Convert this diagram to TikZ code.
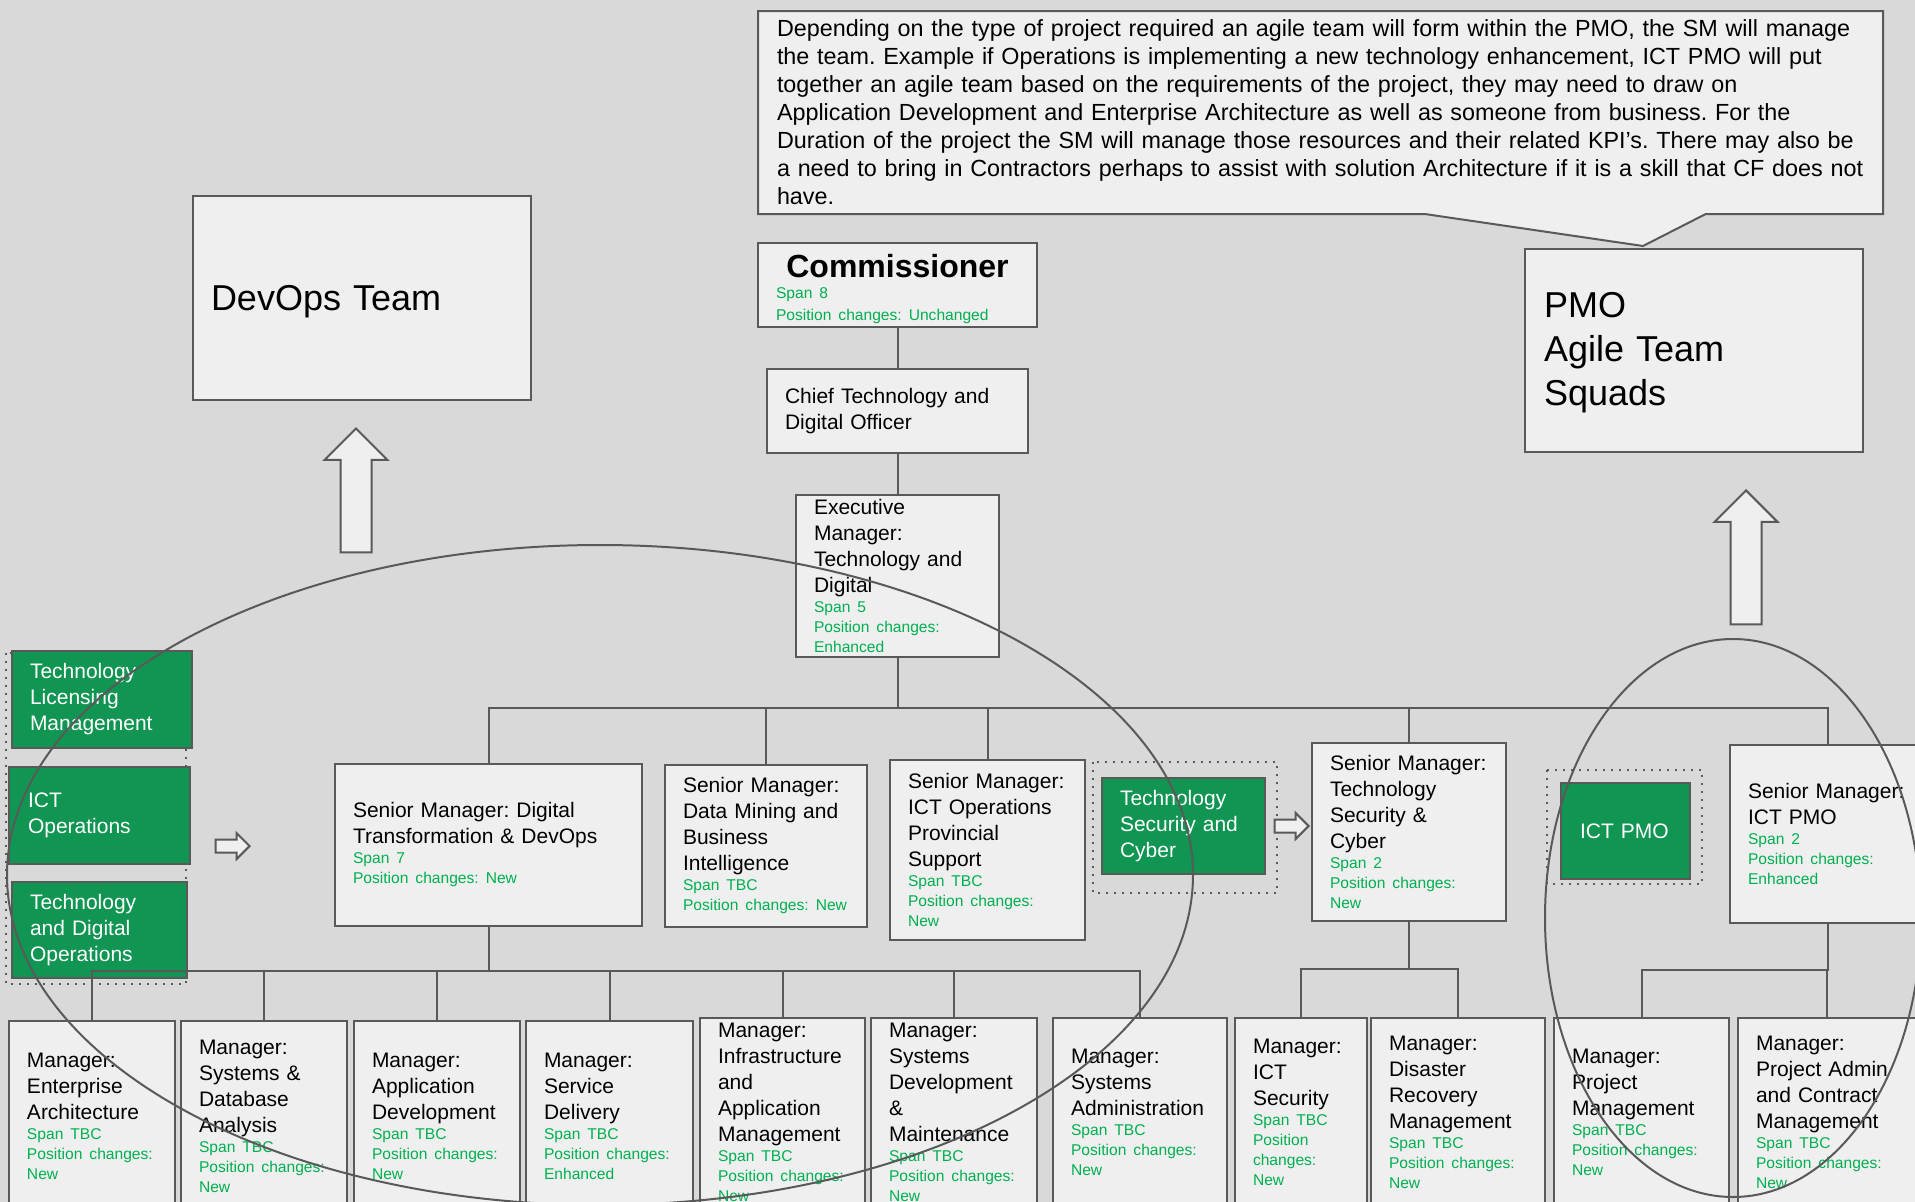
\documentclass[tikz,border=0pt]{standalone}
\usepackage{fontspec}
\setmainfont{Liberation Sans}
\usetikzlibrary{arrows,shapes.arrows,shapes.callouts,positioning,calc}

\definecolor{slidebg}{HTML}{D9D9D9}
\definecolor{boxfill}{HTML}{EFEFEF}
\definecolor{boxline}{HTML}{595959}
\definecolor{unitgreen}{HTML}{109552}
\definecolor{spangreen}{HTML}{00B050}

\frenchspacing
\hyphenpenalty=10000
\exhyphenpenalty=10000

\newcommand{\spaninfo}[1]{\par{\fontsize{15.6}{20}\selectfont\color{spangreen}#1\par}}

\begin{document}
\begin{tikzpicture}[x=1pt, y=-1pt,
  every node/.style={anchor=north west, align=left, inner xsep=18pt, inner ysep=1pt},
  role/.style={draw=boxline, fill=boxfill, line width=2pt, font=\fontsize{21}{26}\selectfont},
  unit/.style={draw=boxline, fill=unitgreen, line width=2pt, text=white, font=\fontsize{21}{26}\selectfont},
  big/.style={role, font=\fontsize{36}{44}\selectfont},
  link/.style={draw=boxline, line width=2pt},
  group/.style={draw=boxline, line width=2pt, dash pattern=on 2pt off 6pt},
  ring/.style={draw=boxline, line width=2pt},
  blockarrow/.style={single arrow, draw=boxline, fill=boxfill, line width=2pt, anchor=tip}]
\useasboundingbox (0,0) rectangle (1915,1202);
\fill[slidebg] (0,0) rectangle (1915,1202);

\node[big, text width=302pt, minimum height=204pt, text depth=-3pt] (devops) at (192,195) {DevOps Team};
\node[big, text width=300pt, minimum height=203pt, inner xsep=19pt] (pmo) at (1524,248) {\rule{0pt}{30pt}PMO\\Agile Team\\Squads};
\node[role, rectangle callout, callout absolute pointer={(1643,246)}, callout pointer width=281pt,
  text width=1100pt, minimum height=203pt, inner xsep=12.5pt, font=\fontsize{23.35}{28}\selectfont] (note) at (757,10)
  {\leftskip=6.5pt Depending on the type of project required an agile team will form within the PMO, the SM will manage\\
  the team. Example if Operations is implementing a new technology enhancement, ICT PMO will put\\
  together an agile team based on the requirements of the project, they may need to draw on\\
  Application Development and Enterprise Architecture as well as someone from business. For the\\
  Duration of the project the SM will manage those resources and their related KPI’s. There may also be\\
  a need to bring in Contractors perhaps to assist with solution Architecture if it is a skill that CF does not\\
  have.\par};

\node[blockarrow, rotate=90, minimum height=124pt, minimum width=61pt, inner sep=14.5pt, single arrow head extend=16pt] (upA) at (356,427) {};
\node[blockarrow, rotate=90, minimum height=134pt, minimum width=61pt, inner sep=14.5pt, single arrow head extend=16pt] (upB) at (1746,489) {};

% head of the chart
\node[role, text width=243pt, minimum height=84pt] (comm) at (757,242)
  {\makebox[\hsize]{\fontsize{32}{36}\selectfont\bfseries Commissioner}\par
  {\fontsize{15.6}{21.5}\selectfont\color{spangreen}Span 8\\Position changes: Unchanged\par}\kern-8pt};
\node[role, text width=225pt, minimum height=84pt] (cto) at (766,368) {Chief Technology and\\Digital Officer};
\node[role, text width=167pt, minimum height=162pt, inner ysep=0pt] (exec) at (795,494)
  {Executive\\Manager:\\Technology and\\Digital\spaninfo{Span 5\\Position changes:\\Enhanced}};

% units moving across
\draw[group] (6,653) rectangle (186,984);
\draw[group] (1093,762) rectangle (1277,893);
\draw[group] (1547,770) rectangle (1702,884);
\node[unit, text width=144pt, minimum height=97pt] (tlm) at (11,650) {Technology\\Licensing\\Management};
\node[unit, text width=143pt, minimum height=97pt, inner xsep=19pt] (ictops) at (8,766) {ICT\\Operations};
\node[unit, text width=139pt, minimum height=96pt] (tdo) at (11,881) {Technology\\and Digital\\Operations};
\node[unit, text width=127pt, minimum height=96pt] (techsec) at (1101,777) {Technology\\Security and\\Cyber};
\node[unit, text width=91pt, minimum height=96pt, inner xsep=19pt] (ictpmo) at (1560,782) {ICT PMO};
\node[blockarrow, minimum height=34pt, minimum width=24pt, inner sep=5.5pt, single arrow head extend=6.5pt] (moveA) at (251,846) {};
\node[blockarrow, minimum height=34pt, minimum width=24pt, inner sep=5.5pt, single arrow head extend=6.5pt] (moveB) at (1310,826) {};

% senior managers
\node[role, text width=271pt, minimum height=162pt] (smdev) at (334,763)
  {Senior Manager: Digital\\Transformation \& DevOps\spaninfo{Span 7\\Position changes: New}};
\node[role, text width=166pt, minimum height=162pt] (smdata) at (664,764)
  {Senior Manager:\\Data Mining and\\Business\\Intelligence\spaninfo{Span TBC\\Position changes: New}};
\node[role, text width=159pt, minimum height=180pt] (smops) at (889,759)
  {Senior Manager:\\ICT Operations\\Provincial\\Support\spaninfo{Span TBC\\Position changes:\\New}};
\node[role, text width=158pt, minimum height=178pt] (smsec) at (1311,742)
  {Senior Manager:\\Technology\\Security \&\\Cyber\spaninfo{Span 2\\Position changes:\\New}};
\node[role, text width=160pt, minimum height=178pt] (smpmo) at (1729,744)
  {Senior Manager:\\ICT PMO\spaninfo{Span 2\\Position changes:\\Enhanced}};

% managers
\node[role, text width=130pt, minimum height=190pt] (ea) at (8,1020)
  {Manager:\\Enterprise\\Architecture\spaninfo{Span TBC\\Position changes:\\New}};
\node[role, text width=130pt, minimum height=190pt] (sda) at (180,1020)
  {Manager:\\Systems \&\\Database\\Analysis\spaninfo{Span TBC\\Position changes:\\New}};
\node[role, text width=130pt, minimum height=190pt] (ad) at (353,1020)
  {Manager:\\Application\\Development\spaninfo{Span TBC\\Position changes:\\New}};
\node[role, text width=131pt, minimum height=190pt] (sd) at (525,1020)
  {Manager:\\Service\\Delivery\spaninfo{Span TBC\\Position changes:\\Enhanced}};
\node[role, text width=129pt, minimum height=188pt] (iam) at (699,1017)
  {Manager:\\Infrastructure\\and\\Application\\Management\spaninfo{Span TBC\\Position changes:\\New}};
\node[role, text width=130pt, minimum height=188pt] (sdm) at (870,1017)
  {Manager:\\Systems\\Development\\\&\\Maintenance\spaninfo{Span TBC\\Position changes:\\New}};
\node[role, text width=138pt, minimum height=188pt] (sa) at (1052,1017)
  {Manager:\\Systems\\Administration\spaninfo{Span TBC\\Position changes:\\New}};
\node[role, text width=96pt, minimum height=188pt] (ictsec) at (1234,1017)
  {Manager:\\ICT\\Security\spaninfo{Span TBC\\Position\\changes:\\New}};
\node[role, text width=138pt, minimum height=188pt] (dr) at (1370,1017)
  {Manager:\\Disaster\\Recovery\\Management\spaninfo{Span TBC\\Position changes:\\New}};
\node[role, text width=139pt, minimum height=188pt] (pm) at (1553,1017)
  {Manager:\\Project\\Management\spaninfo{Span TBC\\Position changes:\\New}};
\node[role, text width=142pt, minimum height=188pt] (pacm) at (1737,1017)
  {Manager:\\Project Admin\\and Contract\\Management\spaninfo{Span TBC\\Position changes:\\New}};

% reporting lines
\coordinate (busA) at (0,708);
\coordinate (busB) at (0,971);
\coordinate (busC) at (0,969);
\coordinate (busD) at (0,970);
\draw[link] (comm.south) -- (cto.north);
\draw[link] (cto.south) -- (exec.north);
\foreach \n in {smdev,smdata,smops,smsec,smpmo}
  \draw[link] (exec.south) -- (exec.south |- busA) -| (\n.north);
\foreach \n in {ea,sda,ad,sd,iam,sdm,sa}
  \draw[link] (smdev.south) -- (smdev.south |- busB) -| (\n.north);
\foreach \n in {ictsec,dr}
  \draw[link] (smsec.south) -- (smsec.south |- busC) -| (\n.north);
\foreach \n in {pm,pacm}
  \draw[link] (smpmo.south) -- (smpmo.south |- busD) -| (\n.north);

% groupings
\draw[ring] (600,875) ellipse [x radius=593, y radius=330];
\draw[ring] (1733,918) ellipse [x radius=188, y radius=279];

\end{tikzpicture}
\end{document}
